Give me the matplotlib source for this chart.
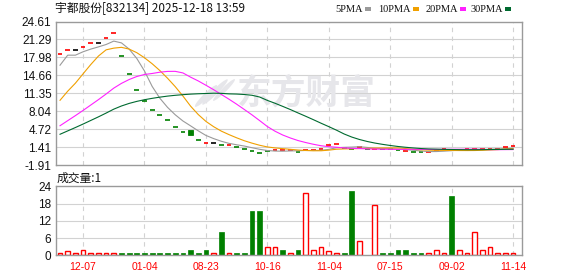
import matplotlib
matplotlib.use('Agg')
import matplotlib.pyplot as plt
import numpy as np
import pandas as pd
from matplotlib.patches import Rectangle, Ellipse

W, H = 578, 276

title = '宇都股份[832134] 2025-12-18 13:59'
vol_title = '成交量:1'
watermark = '东方财富'

# closes before the visible window (only used for moving averages)
history_closes = [0.62, 0.60, 0.61, 0.63, 0.60, 0.59, 0.61, 0.62, 0.61, 0.61,
                  0.64, 0.65, 0.66, 0.64, 0.65, 0.65, 0.66, 0.64, 0.65, 0.66,
                  2.50, 4.50, 2.50, 3.50, 4.85,
                  10.00, 19.30, 16.70, 18.10]

closes = [18.55, 19.29, 19.29, 19.84, 20.58, 20.58, 21.51, 22.43, 18.18, 14.85,
          11.90, 9.92, 8.20, 7.28, 6.41, 5.06, 4.19, 3.69, 2.66, 2.16,
          2.16, 1.73, 1.73, 1.36, 0.99, 0.62, 0.25, 0.62, 0.86, 0.85,
          0.86, 0.44, 0.86, 0.86, 1.00, 1.73, 1.97, 1.20, 1.10, 1.36,
          1.05, 1.10, 1.05, 1.00, 0.92, 0.62, 0.44, 0.43, 0.44, 0.95,
          0.98, 0.90, 0.95, 0.97, 1.00, 1.02, 1.05, 1.07, 1.36, 1.54]

opens = [18.54, 19.28, 19.29, 19.83, 20.57, 20.58, 21.50, 22.42, 18.19, 14.86,
         11.91, 9.93, 8.21, 7.29, 6.42, 5.07, 4.20, 4.50, 2.67, 2.15,
         2.16, 1.74, 1.72, 1.37, 1.00, 0.63, 0.26, 0.63, 0.85, 0.84,
         0.85, 0.45, 0.85, 0.85, 0.99, 1.72, 1.96, 1.21, 1.11, 1.35,
         1.06, 1.09, 1.06, 1.01, 0.93, 0.61, 0.45, 0.44, 0.43, 0.94,
         0.97, 0.91, 0.94, 0.96, 0.99, 1.01, 1.04, 1.06, 1.35, 1.53]

volumes = [0.9, 1.6, 0.9, 1.7, 0.9, 0.9, 0.9, 0.9, 0.9, 0.9,
           0.9, 0.9, 0.9, 0.9, 0.9, 0.9, 0.9, 1.9, 0.9, 1.9,
           0.9, 8.2, 0.9, 0.9, 0.9, 15.5, 15.5, 2.9, 2.9, 1.7,
           0.9, 1.7, 21.7, 1.7, 2.8, 1.6, 0.9, 0.9, 22.5, 4.9,
           0.0, 17.5, 0.9, 0.9, 1.7, 1.7, 0.9, 0.9, 0.9, 1.7,
           0.9, 20.7, 1.7, 0.9, 8.0, 1.7, 2.8, 0.9, 0.9, 0.9]

tick_idx = [3, 11, 19, 27, 35, 43, 51, 59]
tick_labels = ['12-07', '01-04', '08-23', '10-16', '11-04', '07-15', '09-02', '11-14']
price_ticks = [24.61, 21.29, 17.98, 14.66, 11.35, 8.04, 4.72, 1.41, -1.91]
vol_ticks = [0, 6, 12, 18, 24]

ma_periods = [5, 10, 20, 30]
ma_names = ['5PMA', '10PMA', '20PMA', '30PMA']
ma_colors = ['#9a9a9a', '#f0a000', '#ff20ff', '#006a30']

RED = '#ff0000'
GREEN = '#008000'
BLACK = '#000000'
GRID = '#d2d2d2'
FRAME = '#9a9a9a'
WM = '#e6e6ea'

n = len(closes)
xs = np.arange(n)
all_closes = pd.Series(history_closes + closes)
ma_values = [all_closes.rolling(p).mean().to_numpy()[len(history_closes):] for p in ma_periods]

fig = plt.figure(figsize=(W / 100, H / 100), dpi=100)
fig.patch.set_facecolor('white')


def fx(px):
    return px / W


def fy(py):
    return 1 - py / H


left, right = 55.5, 522.0
ax = fig.add_axes([fx(left), fy(165.0), (right - left) / W, (165.0 - 21.5) / H])
axv = fig.add_axes([fx(left), fy(255.3), (right - left) / W, (255.3 - 186.3) / H])

xlim = (-0.59, 60.16)
for a in (ax, axv):
    a.set_xlim(*xlim)
    for s in a.spines.values():
        s.set_color(FRAME)
        s.set_linewidth(1.0)
    a.tick_params(length=0, pad=3)
    a.set_xticks(tick_idx)
    for t in tick_idx:
        a.axvline(t, color=GRID, lw=0.8, ls=(0, (4, 4)), zorder=0)

ax.set_ylim(price_ticks[-1], price_ticks[0])
ax.set_yticks(price_ticks)
ax.set_yticklabels([f'{v:.2f}' for v in price_ticks], fontsize=8.5,
                   family='Liberation Sans', color='#111111')
for v in price_ticks[1:-1]:
    ax.axhline(v, color=GRID, lw=0.8, zorder=0)
ax.set_xticklabels([])

axv.set_ylim(0, 24)
axv.set_yticks(vol_ticks)
axv.set_yticklabels([str(v) for v in vol_ticks], fontsize=8.5,
                    family='Liberation Sans', color='#111111')
for v in vol_ticks[1:-1]:
    axv.axhline(v, color=GRID, lw=0.8, zorder=0)
axv.set_xticklabels(tick_labels, fontsize=7.5, family='Liberation Sans', color=RED)
axv.tick_params(axis='x', pad=5)

# watermark (logo + text), behind the data
ax.text(fx(306.7), fy(93.3), watermark, transform=fig.transFigure, fontsize=25,
        fontweight='bold', color=WM, family=['Noto Sans CJK SC'],
        ha='center', va='center', zorder=0.5)
for (cx, cy, ew, eh) in [(206, 96, 7, 24), (215, 92, 7, 28), (224, 90, 6, 24)]:
    ax.add_patch(Ellipse((fx(cx), fy(cy)), ew / W, eh / H, angle=-25,
                         transform=fig.transFigure, facecolor=WM,
                         edgecolor='none', zorder=0.5))

# candles
cw = 0.62
for i in range(n):
    o, c = opens[i], closes[i]
    col = RED if c > o else (GREEN if c < o else BLACK)
    if abs(c - o) < 0.05:
        ax.hlines(c, i - cw / 2, i + cw / 2, color=col, lw=1.2, zorder=2)
    else:
        lo = min(o, c)
        if c > o:
            ax.add_patch(Rectangle((i - cw / 2, lo), cw, abs(c - o), facecolor='white',
                                   edgecolor=col, lw=0.8, zorder=2))
        else:
            ax.add_patch(Rectangle((i - cw / 2, lo), cw, abs(c - o), facecolor=col,
                                   edgecolor=col, lw=0.6, zorder=2))

# moving averages
for vals, col in zip(ma_values, ma_colors):
    ax.plot(xs, vals, color=col, lw=0.8, zorder=3)

# volume bars
prev = [history_closes[-1]] + closes[:-1]
bw = 0.62
for i in range(n):
    v = volumes[i]
    if v <= 0:
        continue
    if closes[i] >= prev[i]:
        axv.add_patch(Rectangle((i - bw / 2, 0), bw, v, facecolor='white',
                                edgecolor=RED, lw=1.0, zorder=2))
    else:
        axv.add_patch(Rectangle((i - bw / 2, 0), bw, v, facecolor=GREEN,
                                edgecolor=GREEN, lw=0.5, zorder=2))

# title texts
fig.text(fx(55), fy(9), title, fontsize=8.5, family=['Noto Sans CJK SC'],
         color='#111111', ha='left', va='center')
fig.text(fx(57), fy(178), vol_title, fontsize=8.5, family=['Noto Sans CJK SC'],
         color='#111111', ha='left', va='center')

# legend
square_x = [365, 413, 460, 505]
for name, col, sx in zip(ma_names, ma_colors, square_x):
    fig.text(fx(sx - 2), fy(9), name, fontsize=7.5, family='Liberation Serif',
             color='#111111', ha='right', va='center')
    fig.patches.append(Rectangle((fx(sx), fy(10.5)), 5.5 / W, 3.5 / H,
                                 facecolor=col, edgecolor='none',
                                 transform=fig.transFigure, figure=fig))

fig.savefig('out.png', dpi=100, facecolor='white')
